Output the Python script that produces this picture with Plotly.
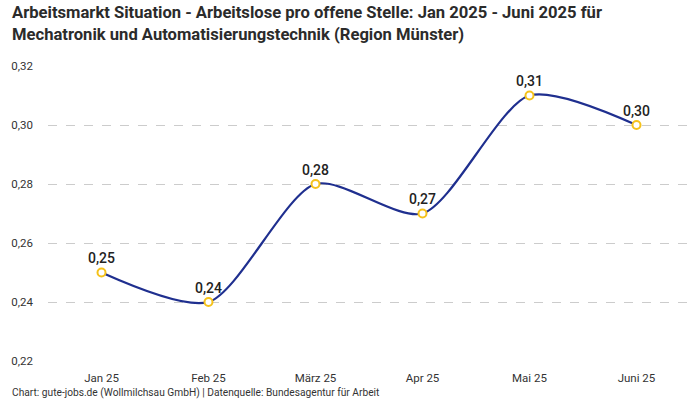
import plotly.graph_objects as go

months = ["Jan 25", "Feb 25", "März 25", "Apr 25", "Mai 25", "Juni 25"]
values = [0.25, 0.24, 0.28, 0.27, 0.31, 0.30]
y_ticks = [0.22, 0.24, 0.26, 0.28, 0.30, 0.32]
title_lines = [
    "Arbeitsmarkt Situation - Arbeitslose pro offene Stelle: Jan 2025 - Juni 2025 für",
    "Mechatronik und Automatisierungstechnik (Region Münster)",
]
footer = "Chart: gute-jobs.de (Wollmilchsau GmbH) | Datenquelle: Bundesagentur für Arbeit"

FONT = "Roboto, Noto Sans, sans-serif"
W, H = 700, 400
ML, MR, MT, MB = 48, 10, 66, 39
PH = H - MT - MB
PW = W - ML - MR

def py(pix):
    return (H - MB - pix) / PH

def px(pix):
    return (pix - ML) / PW

fig = go.Figure()
fig.add_trace(go.Scatter(
    x=months, y=values,
    mode="lines+markers+text",
    line=dict(color="#1f2f8f", width=2.2, shape="spline", smoothing=0.75),
    marker=dict(size=8, color="white", line=dict(color="#f5c21b", width=2)),
    text=[f"{v:.2f}".replace(".", ",") for v in values],
    textposition="top center",
    textfont=dict(family=FONT, size=14, color="#222222", weight=500),
    cliponaxis=False,
    hoverinfo="skip",
))

annotations = [
    dict(text="<br>".join(title_lines), xref="paper", yref="paper", x=px(10), y=py(1),
         xanchor="left", yanchor="top", align="left", showarrow=False,
         font=dict(family=FONT, size=16.6, color="#2b2b2b", weight="bold")),
    dict(text=footer, xref="paper", yref="paper", x=px(10), y=py(393),
         xanchor="left", yanchor="middle", showarrow=False,
         font=dict(family=FONT, size=10.2, color="#333333")),
]

fig.update_layout(
    width=W, height=H,
    margin=dict(l=ML, r=MR, t=MT, b=MB),
    paper_bgcolor="white", plot_bgcolor="white",
    separators=",.",
    showlegend=False,
    font=dict(family=FONT, color="#333333"),
    xaxis=dict(
        type="category", range=[-0.5, 5.5],
        showgrid=False, showline=False, zeroline=False, ticks="",
        ticklabelstandoff=8,
        tickfont=dict(size=11.5, color="#333333"),
    ),
    yaxis=dict(
        range=[0.22, 0.32], tickvals=y_ticks, tickformat=".2f",
        showgrid=True, gridcolor="#cccccc", griddash="dash", gridwidth=1,
        zeroline=False, showline=False, ticks="",
        ticklabelstandoff=14,
        tickfont=dict(size=11.5, color="#333333"),
    ),
    annotations=annotations,
)

fig.write_html("out.html", config={"displayModeBar": False},
               post_script="document.body.style.margin='0';")
